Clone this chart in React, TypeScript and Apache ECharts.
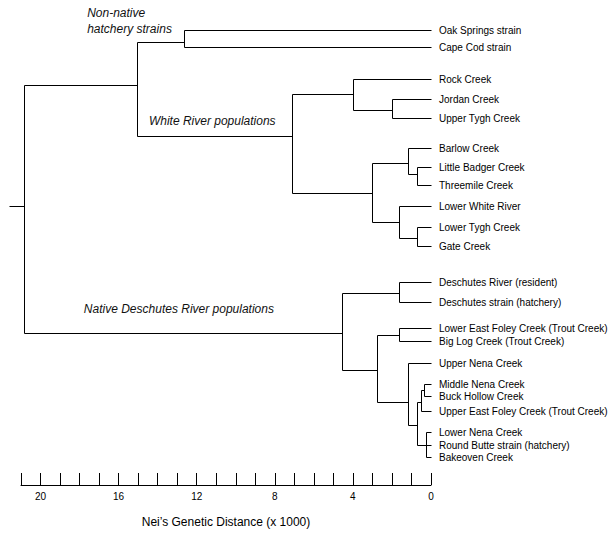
import React, { useEffect, useRef } from 'react';
import * as echarts from 'echarts';

// Leaves (top to bottom) and their vertical row positions (in rows)
const leafNames = [
  'Oak Springs strain',
  'Cape Cod strain',
  'Rock Creek',
  'Jordan Creek',
  'Upper Tygh Creek',
  'Barlow Creek',
  'Little Badger Creek',
  'Threemile Creek',
  'Lower White River',
  'Lower Tygh Creek',
  'Gate Creek',
  'Deschutes River (resident)',
  'Deschutes strain (hatchery)',
  'Lower East Foley Creek (Trout Creek)',
  'Big Log Creek (Trout Creek)',
  'Upper Nena Creek',
  'Middle Nena Creek',
  'Buck Hollow Creek',
  'Upper East Foley Creek (Trout Creek)',
  'Lower Nena Creek',
  'Round Butte strain (hatchery)',
  'Bakeoven Creek',
];
const leafRow = [
  0, 0.9, 2.51, 3.54, 4.5, 6.05, 7.03, 7.95, 9.06, 10.15, 11.08,
  12.97, 14.0, 15.3, 15.98, 17.09, 18.21, 18.81, 19.59, 20.65, 21.32, 21.96,
];

// Internal nodes: id, Nei's distance (x1000), connector row, children (leaf names or node ids)
const nodeIds = ['ROOT', 'A', 'NN', 'WR', 'B', 'JU', 'C', 'BAR', 'LBTM', 'LWR', 'LTG', 'D', 'DRDS', 'E', 'LEFBL', 'F', 'G', 'H', 'I', 'J'];
const nodeDistance = [20.83, 15.05, 12.65, 7.14, 3.98, 2.01, 3.04, 1.18, 0.7, 1.64, 0.7, 4.54, 1.62, 2.75, 1.64, 1.19, 0.73, 0.53, 0.34, 0.27];
const nodeRow = [9.06, 2.82, 0.6, 5.47, 3.3, 4.1, 8.37, 6.84, 7.4, 9.86, 10.68, 15.59, 13.5, 17.47, 15.68, 19.14, 20.29, 19.14, 18.5, 21.32];
const nodeChildren = [
  ['A', 'D'],
  ['NN', 'WR'],
  ['Oak Springs strain', 'Cape Cod strain'],
  ['B', 'C'],
  ['Rock Creek', 'JU'],
  ['Jordan Creek', 'Upper Tygh Creek'],
  ['BAR', 'LWR'],
  ['Barlow Creek', 'LBTM'],
  ['Little Badger Creek', 'Threemile Creek'],
  ['Lower White River', 'LTG'],
  ['Lower Tygh Creek', 'Gate Creek'],
  ['DRDS', 'E'],
  ['Deschutes River (resident)', 'Deschutes strain (hatchery)'],
  ['LEFBL', 'F'],
  ['Lower East Foley Creek (Trout Creek)', 'Big Log Creek (Trout Creek)'],
  ['Upper Nena Creek', 'G'],
  ['H', 'J'],
  ['I', 'Upper East Foley Creek (Trout Creek)'],
  ['Middle Nena Creek', 'Buck Hollow Creek'],
  ['Lower Nena Creek', 'Round Butte strain (hatchery)', 'Bakeoven Creek'],
];
const rootStubDistance = 21.62;

// Group annotations
const groupLabels = ['Non-native\nhatchery strains', 'White River populations', 'Native Deschutes River populations'];
const groupLabelDistance = [17.61, 14.45, 17.78];
const groupLabelRow = [-0.45, 4.7, 14.32];

// Axis
const axisTickLabels = [20, 16, 12, 8, 4, 0];
const axisMax = 21;
const axisTitle = 'Nei\u2019s Genetic Distance (x 1000)';

const FONT = 'Arial, "Liberation Sans", Helvetica, sans-serif';

function buildSegments(): number[][] {
  const pos: Record<string, [number, number]> = {};
  leafNames.forEach((n, i) => (pos[n] = [0, leafRow[i]]));
  nodeIds.forEach((id, i) => (pos[id] = [nodeDistance[i], nodeRow[i]]));
  const segs: number[][] = [];
  nodeIds.forEach((id, i) => {
    const d = nodeDistance[i];
    const rows = nodeChildren[i].map((c) => pos[c][1]);
    segs.push([d, Math.min(...rows), d, Math.max(...rows)]);
    nodeChildren[i].forEach((c) => {
      segs.push([d, pos[c][1], pos[c][0], pos[c][1]]);
    });
  });
  const r = nodeIds.indexOf('ROOT');
  segs.push([rootStubDistance, nodeRow[r], nodeDistance[r], nodeRow[r]]);
  return segs;
}

export default function App() {
  const ref = useRef<HTMLDivElement>(null);
  useEffect(() => {
    if (!ref.current) return;
    const chart = echarts.init(ref.current, null, { renderer: 'svg' });
    const rowPx = 19.5;
    const firstRowPx = 30;
    const gridTop = 0;
    const gridBottom = 47;
    const gridHeight = 533 - gridTop - gridBottom;
    const yMin = -firstRowPx / rowPx;
    const yMax = yMin + gridHeight / rowPx;
    const crisp = (v: number) => Math.round(v) + 0.5;

    chart.setOption({
      animation: false,
      backgroundColor: '#fff',
      grid: { left: 21, right: 179, top: gridTop, bottom: gridBottom, containLabel: false },
      xAxis: {
        type: 'value',
        position: 'bottom',
        inverse: true,
        min: 0,
        max: axisMax,
        interval: 1,
        splitLine: { show: false },
        axisLine: { show: true, onZero: false, lineStyle: { color: '#000', width: 1 } },
        axisTick: { show: true, inside: true, length: 12, lineStyle: { color: '#000', width: 1 } },
        axisLabel: {
          interval: 0,
          margin: 6,
          color: '#000',
          fontSize: 10,
          fontFamily: FONT,
          formatter: (v: number) => (axisTickLabels.indexOf(v) >= 0 ? String(v) : ''),
        },
        name: axisTitle,
        nameLocation: 'middle',
        nameGap: 31,
        nameTextStyle: { color: '#000', fontSize: 12, fontFamily: FONT },
      },
      yAxis: {
        type: 'value',
        inverse: true,
        min: yMin,
        max: yMax,
        show: false,
      },
      series: [
        {
          type: 'custom',
          clip: false,
          silent: true,
          encode: { x: [0, 2], y: [1, 3] },
          data: buildSegments(),
          renderItem: (_p: any, api: any) => {
            const a = api.coord([api.value(0), api.value(1)]);
            const b = api.coord([api.value(2), api.value(3)]);
            return {
              type: 'line',
              shape: { x1: crisp(a[0]), y1: crisp(a[1]), x2: crisp(b[0]), y2: crisp(b[1]) },
              style: { stroke: '#000', lineWidth: 1 },
            };
          },
        },
        {
          type: 'custom',
          clip: false,
          silent: true,
          encode: { x: 0, y: 1 },
          data: leafRow.map((r) => [0, r]),
          renderItem: (p: any, api: any) => {
            const a = api.coord([api.value(0), api.value(1)]);
            return {
              type: 'text',
              style: {
                x: a[0] + 8,
                y: crisp(a[1]),
                text: leafNames[p.dataIndex],
                fill: '#000',
                fontSize: 10,
                fontFamily: FONT,
                align: 'left',
                verticalAlign: 'middle',
              },
            };
          },
        },
        {
          type: 'custom',
          clip: false,
          silent: true,
          encode: { x: 0, y: 1 },
          data: groupLabelDistance.map((d, i) => [d, groupLabelRow[i]]),
          renderItem: (p: any, api: any) => {
            const a = api.coord([api.value(0), api.value(1)]);
            return {
              type: 'text',
              style: {
                x: a[0],
                y: a[1],
                text: groupLabels[p.dataIndex],
                fill: '#111',
                fontSize: 12,
                fontStyle: 'italic',
                fontFamily: FONT,
                lineHeight: 16,
                align: 'left',
                verticalAlign: 'middle',
              },
            };
          },
        },
      ],
    });
    return () => chart.dispose();
  }, []);
  return (
    <div
      ref={ref}
      style={{ position: 'fixed', left: 0, top: 0, width: 610, height: 533, background: '#fff' }}
    />
  );
}
